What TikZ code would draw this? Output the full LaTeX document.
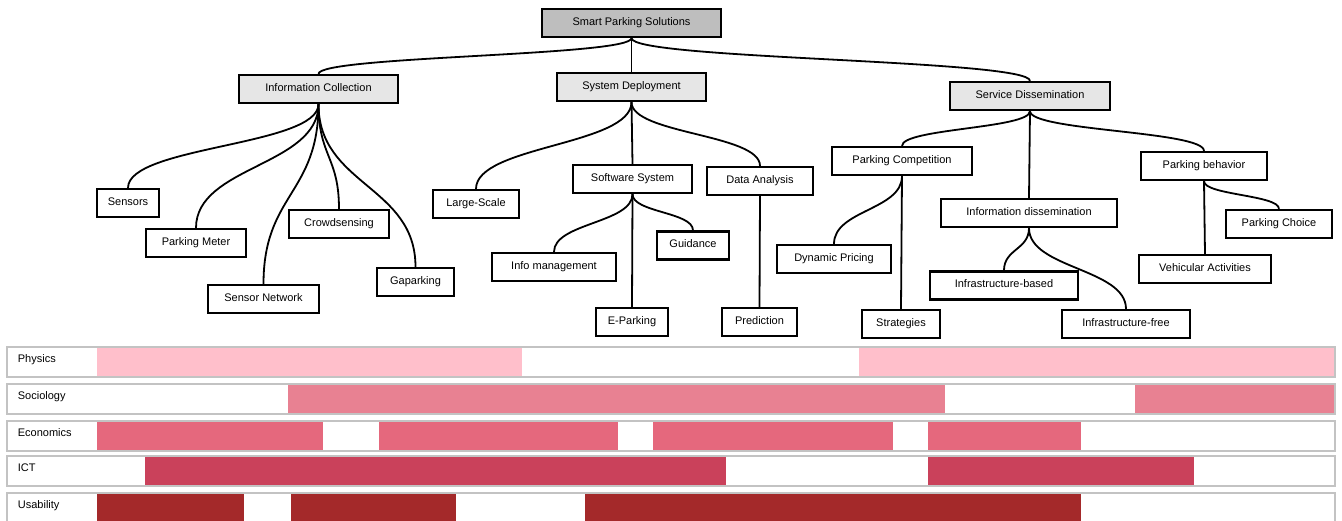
\documentclass[tikz,border=0pt]{standalone}
\usepackage{fontspec}
\setmainfont{Liberation Sans}
\tikzstyle{box}=[draw,fill=white,line width=2.2pt,minimum height=28pt,inner sep=0pt,text height=8pt,text depth=4pt]
\tikzstyle{root}=[box,fill=rootgray]
\tikzstyle{topic}=[box,fill=topicgray]
\tikzstyle{band}=[draw=bandgray,line width=1.5pt]
\tikzstyle{bandlabel}=[anchor=base west,inner sep=0pt]
\definecolor{rootgray}{RGB}{190,190,190}
\definecolor{topicgray}{RGB}{230,230,230}
\definecolor{bandgray}{RGB}{195,195,195}
\definecolor{mypink}{RGB}{255,191,203}
\definecolor{myrose}{RGB}{232,129,146}
\definecolor{mycoral}{RGB}{229,104,125}
\definecolor{mycrimson}{RGB}{202,65,91}
\definecolor{mybrown}{RGB}{164,41,42}

\begin{document}
\begin{tikzpicture}[x=1pt,y=-1pt,line width=1.8pt,font=\fontsize{11}{13}\selectfont]
\useasboundingbox (0,0) rectangle (1342,520);
\draw (631.5, 23) node [root, minimum width=179pt] (n1) {Smart Parking Solutions};
\draw (318.5, 89) node [topic, minimum width=159pt] (n2) {Information Collection};
\draw (631.5, 87) node [topic, minimum width=149pt] (n3) {System Deployment};
\draw (1030, 96) node [topic, minimum width=160pt] (n4) {Service Dissemination};
\draw (n1.south) .. controls +(0,18) and +(0,-18) .. (n2.north);
\draw (n1.south) -- (n3.north);
\draw (n1.south) .. controls +(0,21.5) and +(0,-21.5) .. (n4.north);
\draw (128, 203) node [box, minimum width=62pt] (n5) {Sensors};
\draw (196, 243) node [box, minimum width=100pt] (n6) {Parking Meter};
\draw (263.5, 299) node [box, minimum width=111pt] (n7) {Sensor Network};
\draw (339, 224) node [box, minimum width=100pt] (n8) {Crowdsensing};
\draw (415.5, 282) node [box, minimum width=77pt] (n9) {Gaparking};
\draw (n2.south) .. controls +(0,42) and +(0,-42) .. (n5.north);
\draw (n2.south) .. controls +(0,62) and +(0,-62) .. (n6.north);
\draw (n2.south) .. controls +(0,90) and +(0,-90) .. (n7.north);
\draw (n2.south) .. controls +(0,52.5) and +(0,-52.5) .. (n8.north);
\draw (n2.south) .. controls +(0,81.5) and +(0,-81.5) .. (n9.north);
\draw (476, 204) node [box, minimum width=86pt] (n10) {Large-Scale};
\draw (632.5, 179) node [box, minimum width=119pt] (n11) {Software System};
\draw (760, 181) node [box, minimum width=106pt] (n12) {Data Analysis};
\draw (n3.south) .. controls +(0,43.5) and +(0,-43.5) .. (n10.north);
\draw (n3.south) -- (n11.north);
\draw (n3.south) .. controls +(0,32) and +(0,-32) .. (n12.north);
\draw (554, 267) node [box, minimum width=124pt] (n13) {Info management};
\draw (632, 322) node [box, minimum width=72pt] (n14) {E-Parking};
\draw (693, 245.5) node [box, minimum width=72pt] (n15) {Guidance};
\draw (759.5, 322) node [box, minimum width=75pt] (n16) {Prediction};
\draw (n11.south) .. controls +(0,29) and +(0,-29) .. (n13.north);
\draw (n11.south) -- (n14.north);
\draw (n11.south) .. controls +(0,18.5) and +(0,-18.5) .. (n15.north);
\draw (n12.south) -- (n16.north);
\draw (902, 161) node [box, minimum width=140pt] (n17) {Parking Competition};
\draw (1029, 213) node [box, minimum width=176pt] (n18) {Information dissemination};
\draw (1204, 166) node [box, minimum width=126pt] (n19) {Parking behavior};
\draw (n4.south) .. controls +(0,17.5) and +(0,-17.5) .. (n17.north);
\draw (n4.south) -- (n18.north);
\draw (n4.south) .. controls +(0,20) and +(0,-20) .. (n19.north);
\draw (834, 259) node [box, minimum width=114pt] (n20) {Dynamic Pricing};
\draw (901, 324) node [box, minimum width=78pt] (n21) {Strategies};
\draw (n17.south) .. controls +(0,34) and +(0,-34) .. (n20.north);
\draw (n17.south) -- (n21.north);
\draw (1004, 285.5) node [box, minimum width=148pt] (n22) {Infrastructure-based};
\draw (1126, 324) node [box, minimum width=128pt] (n23) {Infrastructure-free};
\draw (n18.south) .. controls +(0,21.5) and +(0,-21.5) .. (n22.north);
\draw (n18.south) .. controls +(0,40.5) and +(0,-40.5) .. (n23.north);
\draw (1279, 224) node [box, minimum width=106pt] (n24) {Parking Choice};
\draw (1205, 269) node [box, minimum width=132pt] (n25) {Vehicular Activities};
\draw (n19.south) .. controls +(0,14) and +(0,-14) .. (n24.north);
\draw (n19.south) -- (n25.north);
\fill[mypink] (97, 347) rectangle (522, 377);
\fill[mypink] (859, 347) rectangle (1335, 377);
\draw[band] (7, 347) rectangle (1335, 377);
\draw (17, 362.5) node [bandlabel] (b1) {Physics};
\fill[myrose] (288, 384) rectangle (945, 414);
\fill[myrose] (1135, 384) rectangle (1335, 414);
\draw[band] (7, 384) rectangle (1335, 414);
\draw (17, 399.5) node [bandlabel] (b2) {Sociology};
\fill[mycoral] (97, 421) rectangle (323, 451);
\fill[mycoral] (379, 421) rectangle (618, 451);
\fill[mycoral] (653, 421) rectangle (893, 451);
\fill[mycoral] (928, 421) rectangle (1081, 451);
\draw[band] (7, 421) rectangle (1335, 451);
\draw (17, 436.5) node [bandlabel] (b3) {Economics};
\fill[mycrimson] (145, 456) rectangle (726, 486);
\fill[mycrimson] (928, 456) rectangle (1194, 486);
\draw[band] (7, 456) rectangle (1335, 486);
\draw (17, 471.5) node [bandlabel] (b4) {ICT};
\fill[mybrown] (97, 493) rectangle (244, 523);
\fill[mybrown] (291, 493) rectangle (456, 523);
\fill[mybrown] (585, 493) rectangle (1081, 523);
\draw[band] (7, 493) rectangle (1335, 523);
\draw (17, 508.5) node [bandlabel] (b5) {Usability};
\end{tikzpicture}
\end{document}
